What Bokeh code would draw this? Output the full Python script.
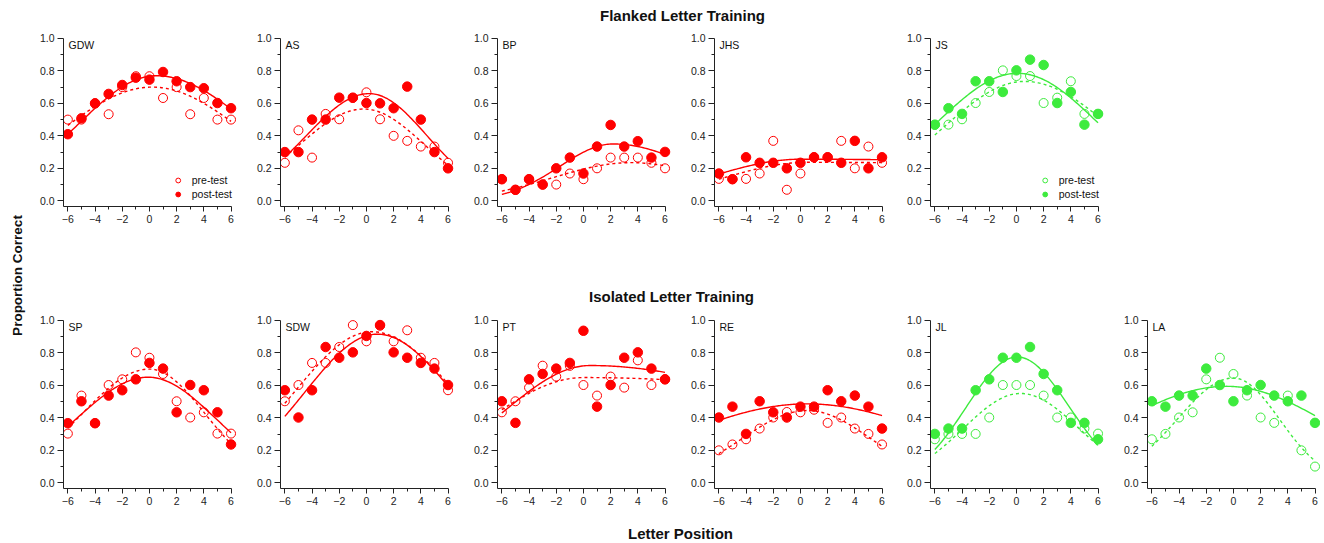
import math
import numpy as np
from bokeh.plotting import figure
from bokeh.models import (Range1d, Label, Legend, LegendItem, FixedTicker,
                          NumeralTickFormatter, ColumnDataSource)
from bokeh.layouts import row, column
from bokeh.embed import file_html
from bokeh.resources import INLINE

# ---------------- data ----------------
positions = [-6, -5, -4, -3, -2, -1, 0, 1, 2, 3, 4, 5, 6]
x_ticks = [-6, -4, -2, 0, 2, 4, 6]
y_ticks = [0.0, 0.2, 0.4, 0.6, 0.8, 1.0]

top_title = "Flanked Letter Training"
bottom_title = "Isolated Letter Training"
x_title = "Letter Position"
y_title = "Proportion Correct"
legend_labels = ["pre-test", "post-test"]

GDW_pre = [0.50, 0.50, 0.60, 0.533, 0.70, 0.767, 0.767, 0.633, 0.70, 0.533, 0.633, 0.50, 0.50]
GDW_post = [0.41, 0.508, 0.60, 0.658, 0.713, 0.758, 0.746, 0.793, 0.736, 0.70, 0.693, 0.602, 0.57]
AS_pre = [0.234, 0.434, 0.266, 0.535, 0.502, 0.633, 0.668, 0.502, 0.40, 0.369, 0.334, 0.334, 0.234]
AS_post = [0.30, 0.30, 0.50, 0.50, 0.635, 0.635, 0.602, 0.60, 0.57, 0.703, 0.50, 0.30, 0.20]
BP_pre = [0.133, 0.067, 0.133, 0.10, 0.10, 0.168, 0.133, 0.20, 0.266, 0.266, 0.266, 0.234, 0.20]
BP_post = [0.133, 0.068, 0.133, 0.10, 0.20, 0.266, 0.168, 0.334, 0.467, 0.334, 0.367, 0.266, 0.301]
JHS_pre = [0.135, 0.133, 0.135, 0.168, 0.369, 0.068, 0.168, 0.268, 0.268, 0.369, 0.20, 0.334, 0.234]
JHS_post = [0.168, 0.133, 0.268, 0.234, 0.234, 0.20, 0.234, 0.268, 0.268, 0.234, 0.369, 0.20, 0.268]
JS_pre = [0.467, 0.469, 0.502, 0.602, 0.67, 0.803, 0.768, 0.768, 0.602, 0.635, 0.736, 0.535, 0.535]
JS_post = [0.469, 0.57, 0.535, 0.736, 0.736, 0.67, 0.803, 0.869, 0.836, 0.602, 0.67, 0.469, 0.535]

SP_pre = [0.303, 0.537, 0.367, 0.602, 0.637, 0.803, 0.77, 0.67, 0.502, 0.402, 0.434, 0.303, 0.303]
SP_post = [0.367, 0.502, 0.367, 0.537, 0.57, 0.637, 0.738, 0.703, 0.434, 0.602, 0.57, 0.434, 0.236]
SDW_pre = [0.502, 0.602, 0.738, 0.738, 0.836, 0.971, 0.871, 0.967, 0.871, 0.939, 0.77, 0.738, 0.57]
SDW_post = [0.57, 0.402, 0.57, 0.836, 0.77, 0.803, 0.904, 0.971, 0.803, 0.77, 0.738, 0.703, 0.602]
PT_pre = [0.434, 0.502, 0.586, 0.721, 0.654, 0.72, 0.602, 0.537, 0.654, 0.586, 0.754, 0.602, 0.637]
PT_post = [0.502, 0.369, 0.637, 0.67, 0.703, 0.738, 0.936, 0.469, 0.602, 0.77, 0.803, 0.703, 0.637]
RE_pre = [0.20, 0.236, 0.268, 0.334, 0.402, 0.436, 0.434, 0.45, 0.369, 0.402, 0.334, 0.301, 0.236]
RE_post = [0.402, 0.469, 0.301, 0.502, 0.434, 0.402, 0.469, 0.469, 0.57, 0.502, 0.537, 0.469, 0.334]
JL_pre = [0.268, 0.301, 0.301, 0.301, 0.402, 0.602, 0.602, 0.602, 0.537, 0.402, 0.402, 0.334, 0.303]
JL_post = [0.301, 0.334, 0.334, 0.57, 0.637, 0.77, 0.77, 0.836, 0.67, 0.57, 0.369, 0.369, 0.268]
LA_pre = [0.268, 0.301, 0.402, 0.434, 0.637, 0.77, 0.67, 0.537, 0.402, 0.369, 0.537, 0.20, 0.10]
LA_post = [0.502, 0.469, 0.537, 0.537, 0.703, 0.602, 0.502, 0.57, 0.602, 0.537, 0.502, 0.537, 0.369]

# fitted (split) Gaussian parameters: (peak, centre, sigma_left, sigma_right)
GDW_fit_pre = (0.70, 0.2, 6.85, 6.85)
GDW_fit_post = (0.77, 0.5, 5.79, 6.98)
AS_fit_pre = (0.565, -0.2, 4.77, 4.51)
AS_fit_post = (0.66, 0.2, 4.63, 4.26)
BP_fit_pre = (0.235, 3.5, 5.75, 5.93)
BP_fit_post = (0.35, 2.2, 3.93, 5.93)
JHS_fit_pre = (0.237, 0.5, 6.05, 40.0)
JHS_fit_post = (0.256, 0.0, 6.4, 40.0)
JS_fit_pre = (0.735, 0.6, 6.05, 6.5)
JS_fit_post = (0.785, 0.1, 6.02, 5.95)
SP_fit_pre = (0.70, 0.0, 4.96, 4.1)
SP_fit_post = (0.65, -0.1, 5.28, 5.0)
SDW_fit_pre = (0.93, 0.4, 5.65, 6.1)
SDW_fit_post = (0.915, 0.8, 5.36, 5.61)
PT_fit_pre = (0.648, 0.0, 7.03, 29.8)
PT_fit_post = (0.722, 0.5, 6.38, 15.9)
RE_fit_pre = (0.445, 0.5, 4.83, 4.71)
RE_fit_post = (0.486, 0.5, 9.52, 9.7)
JL_fit_pre = (0.55, 0.3, 4.22, 4.32)
JL_fit_post = (0.775, 0.05, 3.71, 3.82)
LA_fit_pre = (0.645, 0.0, 4.13, 3.39)
LA_fit_post = (0.594, -0.5, 8.22, 7.65)

RED = "#FF0000"
GREEN = "#3DEB3D"
AXIS = "#222222"
FONT = "Liberation Sans"

top_panels = [
    ("GDW", GDW_pre, GDW_post, GDW_fit_pre, GDW_fit_post, RED, True),
    ("AS", AS_pre, AS_post, AS_fit_pre, AS_fit_post, RED, False),
    ("BP", BP_pre, BP_post, BP_fit_pre, BP_fit_post, RED, False),
    ("JHS", JHS_pre, JHS_post, JHS_fit_pre, JHS_fit_post, RED, False),
    ("JS", JS_pre, JS_post, JS_fit_pre, JS_fit_post, GREEN, True),
]
bottom_panels = [
    ("SP", SP_pre, SP_post, SP_fit_pre, SP_fit_post, RED, False),
    ("SDW", SDW_pre, SDW_post, SDW_fit_pre, SDW_fit_post, RED, False),
    ("PT", PT_pre, PT_post, PT_fit_pre, PT_fit_post, RED, False),
    ("RE", RE_pre, RE_post, RE_fit_pre, RE_fit_post, RED, False),
    ("JL", JL_pre, JL_post, JL_fit_pre, JL_fit_post, GREEN, False),
    ("LA", LA_pre, LA_post, LA_fit_pre, LA_fit_post, GREEN, False),
]

col_widths = [217, 217, 217, 216, 217, 200]
FRAME_H = 173
X0 = -6.32
UNIT = 176 / 12.87


def split_gauss(params):
    a, mu, sl, sr = params
    xs = np.linspace(-6, 6, 121)
    s = np.where(xs < mu, sl, sr)
    ys = a * np.exp(-(xs - mu) ** 2 / (2 * s ** 2))
    return xs, ys


def panel(spec, col, border_bottom):
    name, pre, post, fit_pre, fit_post, color, show_legend = spec
    w = col_widths[col]
    border_right = max(w - 26 - 176, 0)
    frame_w = w - 26 - border_right
    x_end = X0 + frame_w / UNIT
    p = figure(width=w, height=FRAME_H + border_bottom,
               x_range=Range1d(X0, x_end), y_range=Range1d(-0.035, 1.03),
               output_backend="svg", toolbar_location=None,
               min_border_left=26, min_border_right=border_right,
               min_border_top=0, min_border_bottom=border_bottom)
    p.outline_line_color = None
    p.grid.visible = False
    p.background_fill_color = "white"
    p.border_fill_color = "white"

    xp, yp = split_gauss(fit_pre)
    xq, yq = split_gauss(fit_post)
    p.line(xp, yp, line_color=color, line_width=1.4, line_dash="3 3")
    p.line(xq, yq, line_color=color, line_width=1.4)

    src_pre = ColumnDataSource(dict(x=positions, y=pre))
    src_post = ColumnDataSource(dict(x=positions, y=post))
    r_pre = p.scatter("x", "y", source=src_pre, marker="circle", size=9,
                      fill_color=None, line_color=color, line_width=1)
    r_post = p.scatter("x", "y", source=src_post, marker="circle", size=9.5,
                       fill_color=color, line_color=color, line_width=1)

    for ax in (p.xaxis[0], p.yaxis[0]):
        ax.axis_line_color = AXIS
        ax.major_tick_line_color = AXIS
        ax.minor_tick_line_color = AXIS
        ax.major_tick_in = 0
        ax.minor_tick_in = 0
        ax.major_tick_out = 5
        ax.minor_tick_out = 3
        ax.major_label_standoff = 3
        ax.major_label_text_font = FONT
        ax.major_label_text_font_size = "10.5px"
        ax.major_label_text_color = AXIS
    p.xaxis.ticker = FixedTicker(ticks=x_ticks, minor_ticks=[-5, -3, -1, 1, 3, 5])
    p.yaxis.ticker = FixedTicker(ticks=y_ticks, minor_ticks=[0.1, 0.3, 0.5, 0.7, 0.9])
    p.yaxis.formatter = NumeralTickFormatter(format="0.0")
    p.xaxis.bounds = (X0, 6)
    p.yaxis.bounds = (-0.035, 1.0)
    p.yaxis.major_tick_out = 6

    p.add_layout(Label(x=-5.95, y=0.962, text=name, text_font=FONT,
                       text_font_size="10.5px", text_color="#111111",
                       text_baseline="middle", text_align="left"))

    if show_legend:
        leg = Legend(items=[LegendItem(label=legend_labels[0], renderers=[r_pre]),
                            LegendItem(label=legend_labels[1], renderers=[r_post])],
                     location="bottom_right")
        leg.border_line_alpha = 0
        leg.background_fill_alpha = 0
        leg.label_text_font = FONT
        leg.label_text_font_size = "10.5px"
        leg.label_text_color = "#111111"
        leg.glyph_width = 12
        leg.glyph_height = 12
        leg.label_height = 12
        leg.label_standoff = 8
        leg.spacing = 2
        leg.padding = 2
        leg.margin = 4
        p.add_layout(leg)
    return p


def text_fig(w, h):
    f = figure(width=w, height=h, x_range=Range1d(0, w), y_range=Range1d(0, h),
               x_axis_location=None, y_axis_location=None,
               output_backend="svg", toolbar_location=None, min_border=0)
    f.outline_line_color = None
    f.grid.visible = False
    return f


TOTAL_W = sum(col_widths)
LEFT_W = 36

header = text_fig(TOTAL_W, 33)
header.add_layout(Label(x=682 - LEFT_W, y=18, text=top_title, text_font=FONT,
                        text_font_size="15px", text_font_style="bold",
                        text_align="center", text_baseline="middle", text_color="#111111"))

mid = text_fig(TOTAL_W, 85)
mid.add_layout(Label(x=671 - LEFT_W, y=19, text=bottom_title, text_font=FONT,
                     text_font_size="15px", text_font_style="bold",
                     text_align="center", text_baseline="middle", text_color="#111111"))

footer = text_fig(TOTAL_W, 32)
footer.add_layout(Label(x=680 - LEFT_W, y=9, text=x_title, text_font=FONT,
                        text_font_size="15px", text_font_style="bold",
                        text_align="center", text_baseline="middle", text_color="#111111"))

left = text_fig(LEFT_W, 542)
left.add_layout(Label(x=17, y=542 - 275, text=y_title, text_font=FONT, angle=math.pi / 2,
                      text_font_size="13.5px", text_font_style="bold",
                      text_align="center", text_baseline="middle", text_color="#111111"))

top_row = row([panel(s, i, 24) for i, s in enumerate(top_panels)])
bottom_row = row([panel(s, i, 22) for i, s in enumerate(bottom_panels)])

layout = row(left, column(header, top_row, mid, bottom_row, footer))

open("out.html", "w").write(file_html(layout, INLINE))
